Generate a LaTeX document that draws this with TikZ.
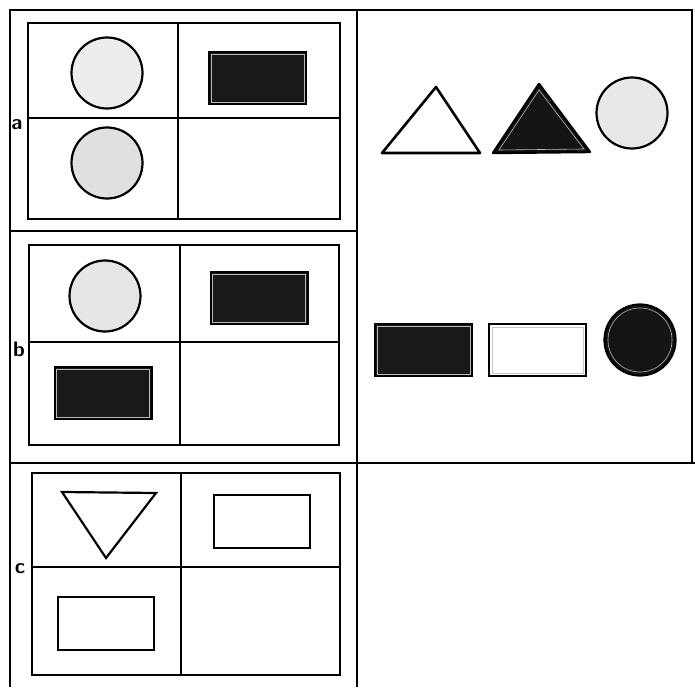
\documentclass[tikz,border=0pt]{standalone}
\usetikzlibrary{calc}
\begin{document}
\begin{tikzpicture}[x=1pt,y=-1pt,
  frame/.style={line width=1.8pt,black},
  panel/.style={line width=2.4pt,black},
  lightdisc/.style={circle,draw=black,line width=2.2pt,fill=gray!14,minimum size=71pt,inner sep=0pt},
  darkdisc/.style={circle,draw=black,line width=2.2pt,fill=black!92,minimum size=71pt,inner sep=0pt},
  darkrect/.style={rectangle,draw=black,line width=2pt,fill=black!90,minimum width=97pt,minimum height=52pt,inner sep=0pt},
  whiterect/.style={rectangle,draw=black,line width=2pt,fill=white,minimum width=97pt,minimum height=52pt,inner sep=0pt},
  openrect/.style={rectangle,draw=black,line width=2pt,fill=white,minimum width=96pt,minimum height=53pt,inner sep=0pt},
  innerline/.style={draw=gray!55,line width=0.6pt},
  lbl/.style={font=\sffamily\bfseries\fontsize{21}{21}\selectfont,inner sep=0pt}]
\useasboundingbox (0,0) rectangle (695,687);
\fill[white] (0,0) rectangle (695,687);
% outer frame
\draw[frame] (10,687) -- (10,10) -- (692,10) -- (692,463);
\draw[frame] (357,10) -- (357,687);
\draw[frame] (10,231) -- (357,231);
\draw[frame] (10,463) -- (695,463);
% panel a
\draw[panel] (28,23) rectangle (340,219);
\draw[panel] (178,23) -- (178,219);
\draw[panel] (28,118) -- (340,118);
\node[lbl] (la) at (17,125) {a};
\node[lightdisc] (a1) at (107,73) {};
\node[darkrect] (a2) at (257.5,78.5) {};
\node[lightdisc,fill=gray!24] (a3) at (107,163) {};
% panel b
\draw[panel] (29,245) rectangle (339,445);
\draw[panel] (180,245) -- (180,445);
\draw[panel] (29,342) -- (339,342);
\node[lbl] (lb) at (19,349) {b};
\node[lightdisc,fill=gray!20] (b1) at (105,296) {};
\node[darkrect] (b2) at (259,298) {};
\node[darkrect] (b3) at (103,393) {};
% panel c
\draw[panel] (32,473) rectangle (340,675);
\draw[panel] (181,473) -- (181,675);
\draw[panel] (32,567) -- (340,567);
\node[lbl] (lc) at (20,569) {c};
\draw[line width=2.2pt,line join=miter,fill=white] (62,492) -- (156,493) -- (106,558) -- cycle;
\node[openrect] (c2) at (261.5,521) {};
\node[openrect] (c3) at (105.5,623.5) {};
% right column: choices
\draw[line width=2.6pt,line join=round,fill=white] (382,153) -- (436,87) -- (480,153) -- cycle;
\draw[line width=2.4pt,line join=round,fill=black!92] (493,153) -- (539,84) -- (590,152) -- cycle;
\draw[innerline] (499,150) -- (539,90) -- (584,149) -- cycle;
\node[lightdisc,fill=gray!18] (r1) at (632,113) {};
\node[darkrect] (r2) at (423.5,350) {};
\node[whiterect] (r3) at (537.5,350) {};
\draw[draw=gray!45,line width=0.6pt] ($(r3.north west)+(4,4)$) rectangle ($(r3.south east)+(-4,-4)$);
\node[darkdisc] (r4) at (640,340) {};
\draw[innerline] (r4.center) circle (32pt);
% thin light inner borders of the dark plates
\foreach \n in {a2,b2,b3,r2}
  \draw[innerline] ($(\n.north west)+(3,3)$) rectangle ($(\n.south east)+(-3,-3)$);
\end{tikzpicture}
\end{document}
